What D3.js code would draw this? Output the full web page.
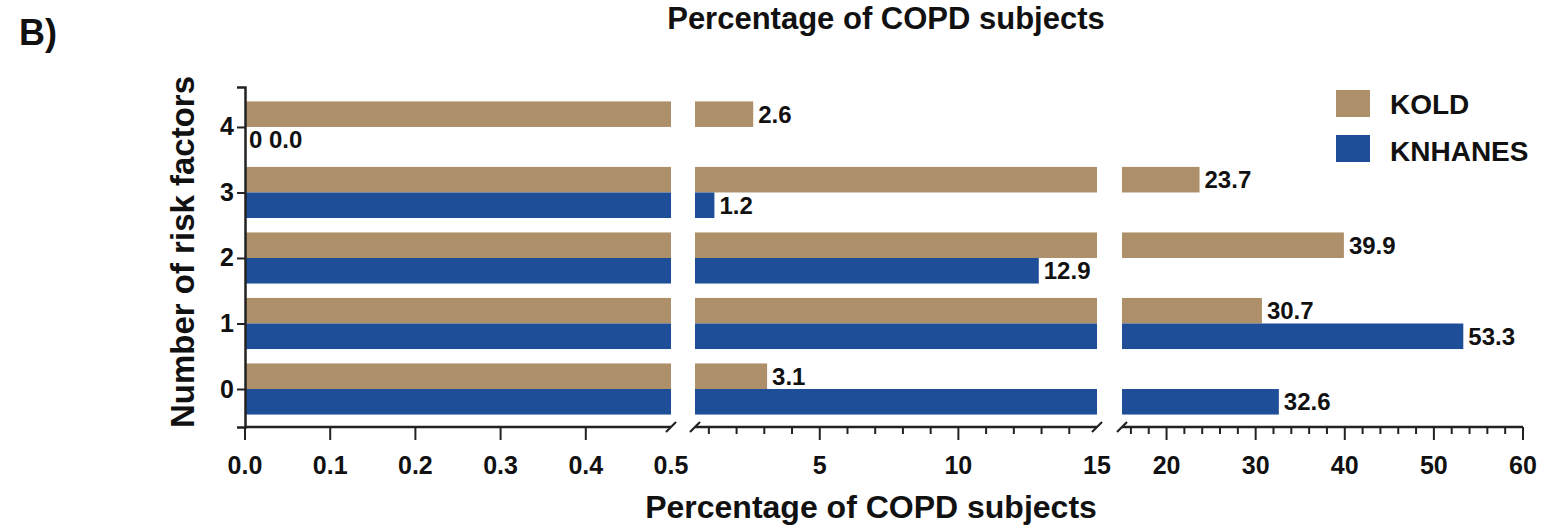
<!DOCTYPE html>
<html>
<head>
<meta charset="utf-8">
<script src="https://cdn.jsdelivr.net/npm/d3@7"></script>
<style>
  html, body { margin: 0; padding: 0; background: #fff; }
  svg { display: block; }
  text { font-family: "Liberation Sans", Arial, sans-serif; font-weight: bold; fill: #111; }
</style>
</head>
<body>
<svg id="chart" width="1545" height="528"></svg>
<script>
// ---- data ----
const categories = [0, 1, 2, 3, 4];
const seriesNames = ["KOLD", "KNHANES"];
const koldValues = [3.1, 30.7, 39.9, 23.7, 2.6];
const knhanesValues = [32.6, 53.3, 12.9, 1.2, 0.0];
const seg1Ticks = [0.0, 0.1, 0.2, 0.3, 0.4, 0.5];
const seg2Ticks = [5, 10, 15];
const seg3Ticks = [20, 30, 40, 50, 60];
const segDomains = [[0, 0.5], [0.5, 15], [15, 60]];
const titleText = "Percentage of COPD subjects";
const yTitleText = "Number of risk factors";
const panelLabel = "B)";

const colors = { KOLD: "#ad9069", KNHANES: "#1f4e99" };

const svg = d3.select("#chart");

// ---- scales ----
const y = d3.scaleLinear().domain([-0.58, 4.61]).range([427, 87]);
const segRanges = [[245, 671], [695, 1097], [1122, 1523]];
const xs = segDomains.map((d, i) => d3.scaleLinear().domain(d).range(segRanges[i]));
const barH = 0.39; // in category units

const series = [
  { name: "KOLD", values: koldValues, off: 1 },
  { name: "KNHANES", values: knhanesValues, off: -1 }
];

// ---- bars ----
const gBars = svg.append("g");
series.forEach(s => {
  categories.forEach((c, i) => {
    const v = s.values[i];
    const y0 = s.off > 0 ? y(c + barH) : y(c);
    const y1 = s.off > 0 ? y(c) : y(c - barH);
    xs.forEach(sc => {
      const [d0, d1] = sc.domain();
      if (v > d0) {
        const end = Math.min(v, d1);
        gBars.append("rect")
          .attr("x", sc(d0)).attr("y", y0)
          .attr("width", sc(end) - sc(d0)).attr("height", y1 - y0)
          .attr("fill", colors[s.name]);
      }
    });
  });
});

// ---- value labels ----
const fmt = d3.format(".1f");
series.forEach(s => {
  categories.forEach((c, i) => {
    const v = s.values[i];
    const sc = xs.find(sc => v <= sc.domain()[1]);
    const cy = s.off > 0 ? y(c + barH / 2) : y(c - barH / 2);
    gBars.append("text")
      .attr("x", sc(v) + (v === 0 ? 4 : 5))
      .attr("y", cy + 8.5)
      .attr("font-size", 24)
      .text(v === 0 ? "0 " + fmt(v) : fmt(v));
  });
});

// ---- y axis ----
const yAxis = d3.axisLeft(y).tickValues(categories).tickFormat(d3.format("d")).tickSize(8).tickPadding(3);
const gy = svg.append("g").attr("transform", "translate(245,0)").call(yAxis);
gy.select(".domain").attr("stroke", "#222").attr("stroke-width", 2.5);
gy.selectAll(".tick line").attr("stroke", "#222").attr("stroke-width", 2);
gy.selectAll(".tick text").attr("font-size", 25).attr("font-family", "Liberation Sans, Arial").attr("font-weight", "bold").attr("fill", "#111");

// ---- x axis (broken) ----
const axisY = 427;
const gx = svg.append("g");
function line(x1, y1, x2, y2, w) {
  gx.append("line").attr("x1", x1).attr("y1", y1).attr("x2", x2).attr("y2", y2)
    .attr("stroke", "#222").attr("stroke-width", w || 2);
}
xs.forEach((sc, i) => {
  const [r0, r1] = sc.range();
  line(r0, axisY, r1, axisY, 2.5);
});
// segment 1 ticks
seg1Ticks.forEach(t => { if (t < 0.5) line(xs[0](t), axisY, xs[0](t), axisY + 13); });
// segment 2 ticks
d3.range(1, 15).forEach(t => {
  const major = seg2Ticks.includes(t);
  line(xs[1](t), axisY, xs[1](t), axisY + (major ? 13 : 7));
});
// segment 3 ticks
d3.range(16, 61, 2).forEach(t => {
  const major = seg3Ticks.includes(t);
  line(xs[2](t), axisY, xs[2](t), axisY + (major ? 13 : 7));
});
// break marks
[xs[0](0.5), xs[1](0.5), xs[1](15), xs[2](15)].forEach(bx => {
  line(bx - 5, axisY + 5, bx + 5, axisY - 5, 2.2);
});
// tick labels
const tickLabels = [];
seg1Ticks.forEach(t => tickLabels.push({ x: xs[0](t), t: d3.format(".1f")(t) }));
seg2Ticks.forEach(t => tickLabels.push({ x: xs[1](t), t: String(t) }));
seg3Ticks.forEach(t => { if (t > 15) tickLabels.push({ x: xs[2](t), t: String(t) }); });
gx.selectAll("text.tl").data(tickLabels).enter().append("text")
  .attr("class", "tl")
  .attr("x", d => d.x).attr("y", 474)
  .attr("text-anchor", "middle").attr("font-size", 25)
  .text(d => d.t);

// ---- titles ----
svg.append("text").attr("x", 871).attr("y", 518).attr("text-anchor", "middle")
  .attr("font-size", 32).text(titleText);
svg.append("text").attr("x", 886).attr("y", 29).attr("text-anchor", "middle")
  .attr("font-size", 31).text(titleText);
svg.append("text").attr("transform", "translate(194,252) rotate(-90)")
  .attr("text-anchor", "middle").attr("font-size", 33).text(yTitleText);
svg.append("text").attr("x", 19).attr("y", 45).attr("font-size", 36).text(panelLabel);

// ---- legend ----
const lg = svg.append("g");
seriesNames.forEach((n, i) => {
  lg.append("rect").attr("x", 1336).attr("y", 90 + i * 45).attr("width", 34).attr("height", 27)
    .attr("fill", colors[n]);
  lg.append("text").attr("x", 1390).attr("y", 114 + i * 47).attr("font-size", 28).text(n);
});
</script>
</body>
</html>
